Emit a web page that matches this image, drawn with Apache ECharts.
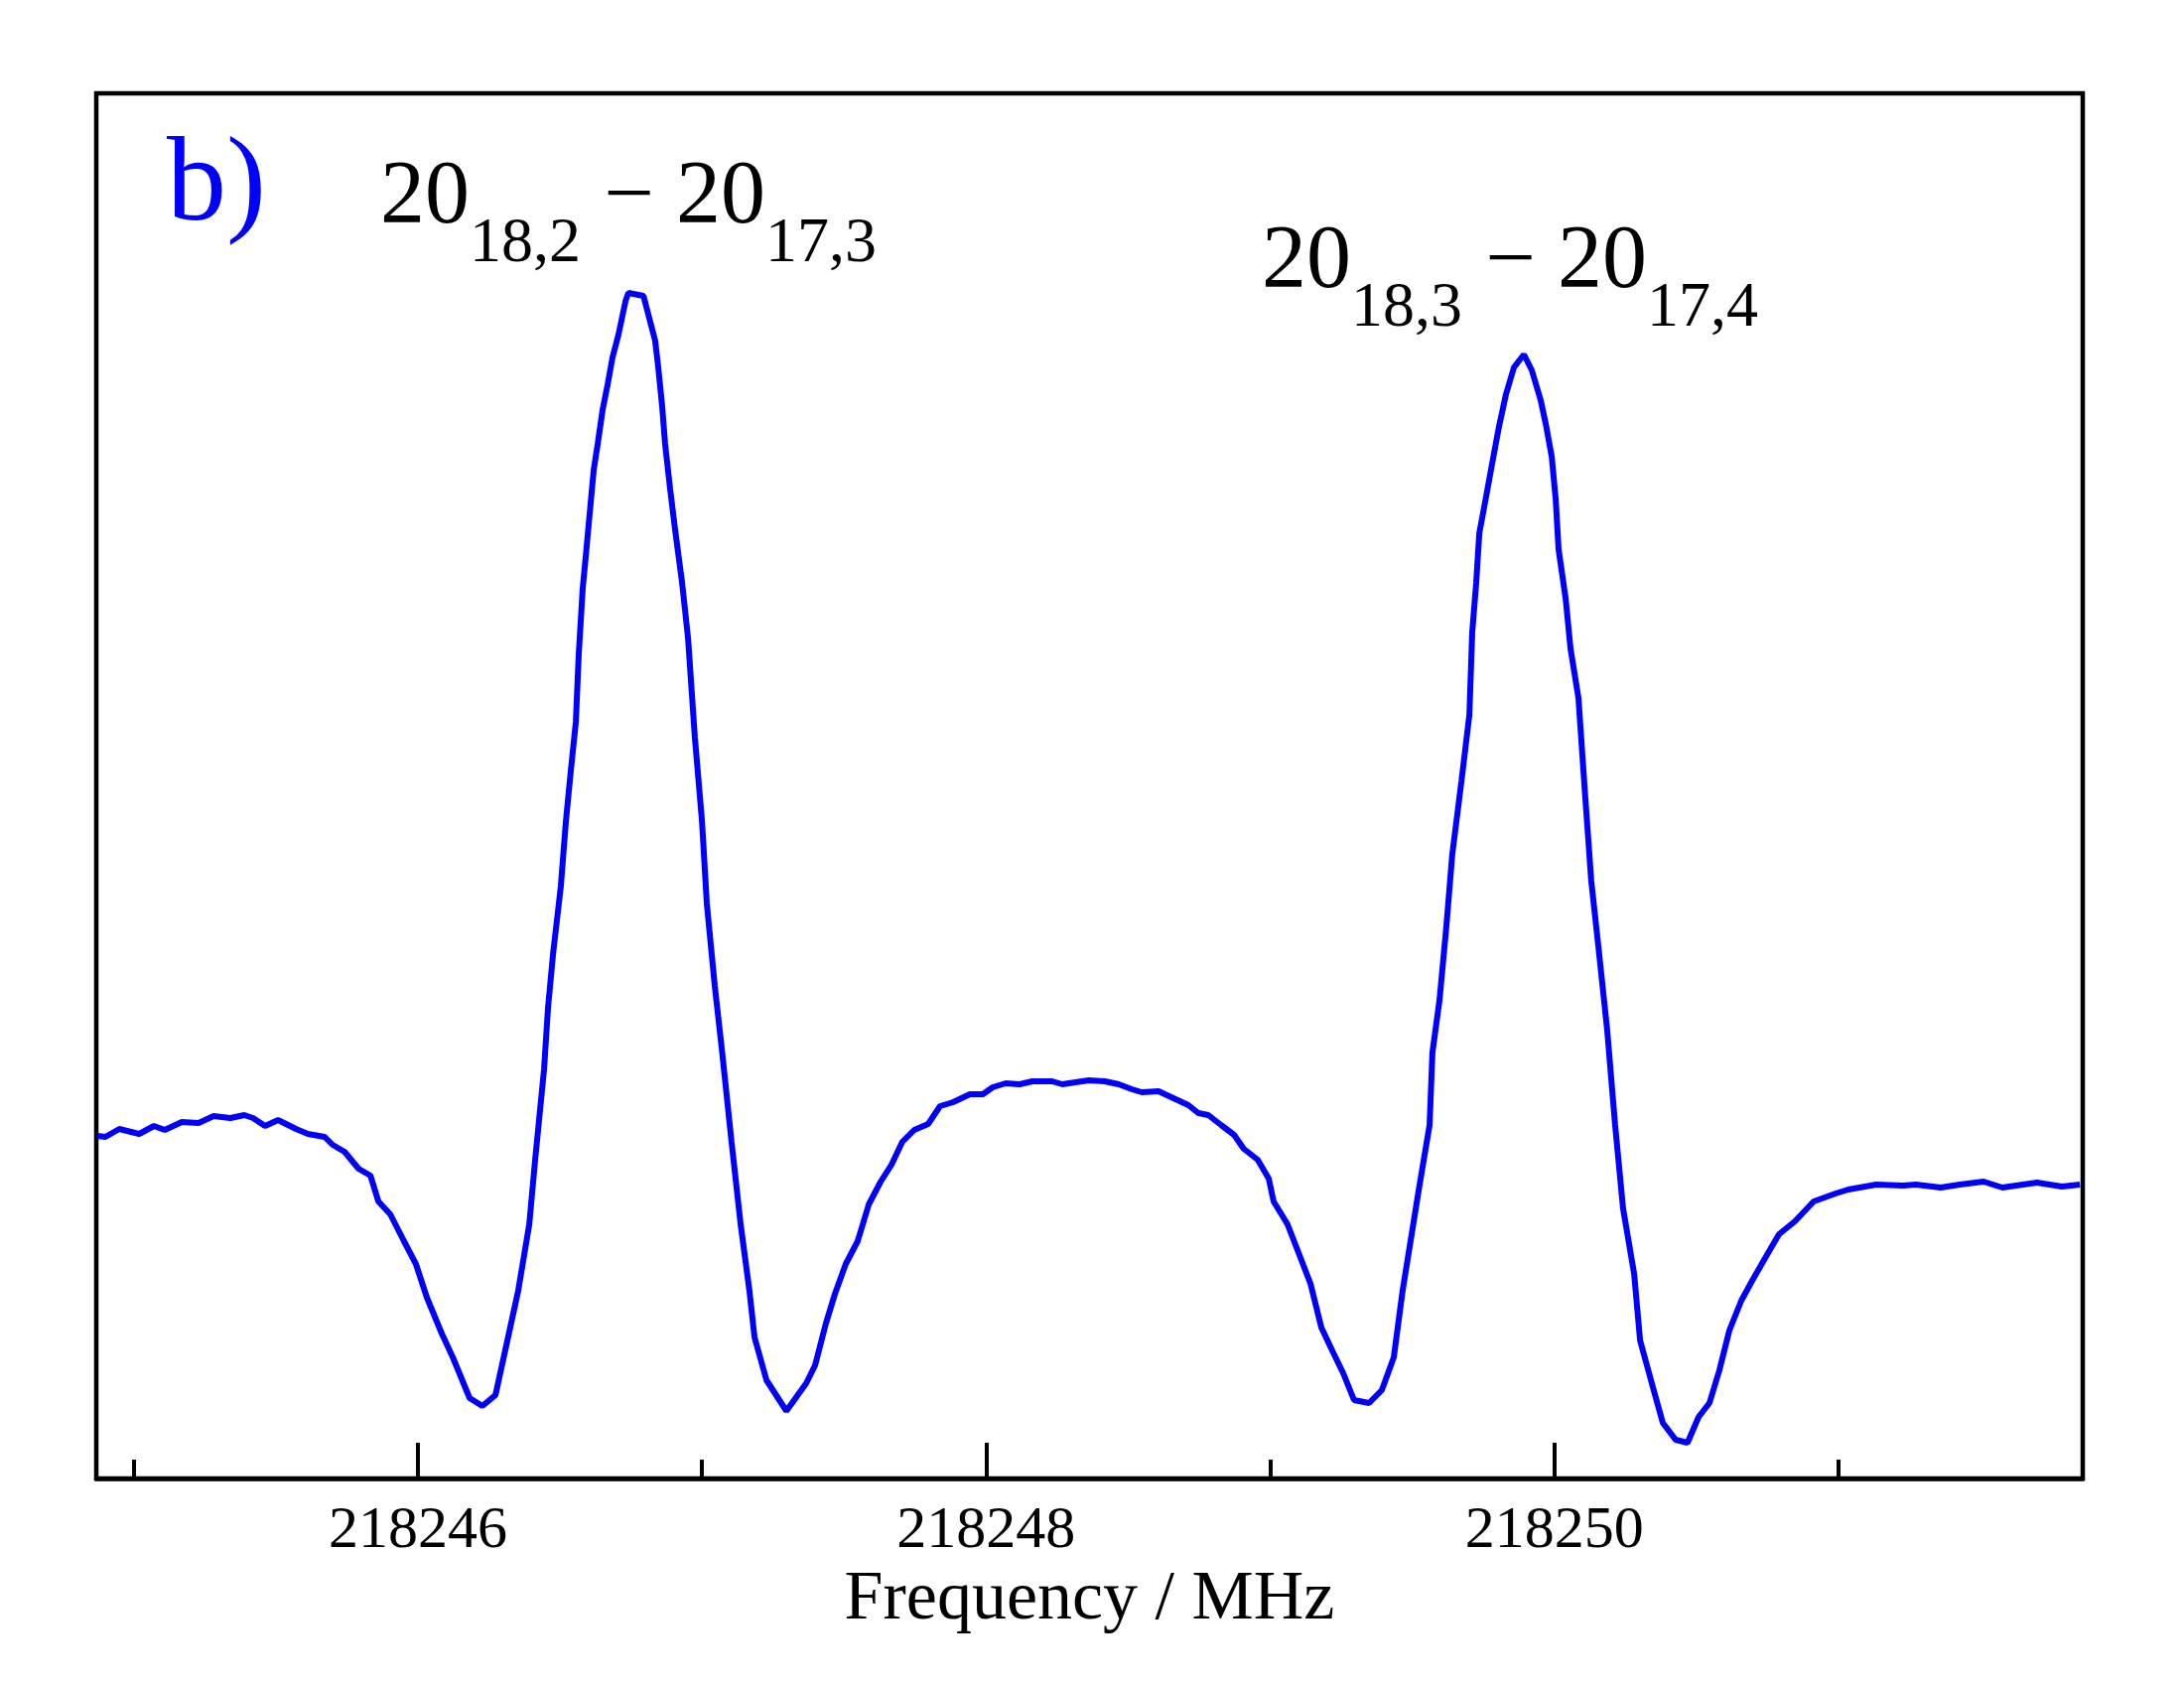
<!DOCTYPE html>
<html>
<head>
<meta charset="utf-8">
<script src="https://cdn.jsdelivr.net/npm/echarts@6/dist/echarts.min.js"></script>
<style>
  html, body { margin: 0; padding: 0; background: #fff; }
  #chart { width: 2200px; height: 1700px; }
</style>
</head>
<body>
<div id="chart"></div>
<script>
// Frequency (MHz) sample positions
const frequency = [
  218244.872, 218244.900, 218244.949, 218245.019, 218245.071, 218245.109, 218245.169, 218245.228,
  218245.281, 218245.340, 218245.389, 218245.420, 218245.462, 218245.508, 218245.571, 218245.613,
  218245.672, 218245.700, 218245.742, 218245.791, 218245.833, 218245.861, 218245.903, 218245.951,
  218245.993, 218246.032, 218246.084, 218246.123, 218246.182, 218246.227, 218246.273, 218246.315,
  218246.353, 218246.392, 218246.413, 218246.444, 218246.458, 218246.476, 218246.503, 218246.521,
  218246.538, 218246.556, 218246.566, 218246.580, 218246.591, 218246.608, 218246.619, 218246.633,
  218246.650, 218246.668, 218246.685, 218246.706, 218246.731, 218246.741, 218246.794, 218246.835,
  218246.846, 218246.860, 218246.870, 218246.888, 218246.905, 218246.930, 218246.951, 218246.975,
  218247.000, 218247.017, 218247.045, 218247.070, 218247.104, 218247.136, 218247.167, 218247.185,
  218247.227, 218247.297, 218247.367, 218247.398, 218247.436, 218247.468, 218247.506, 218247.548,
  218247.587, 218247.629, 218247.667, 218247.705, 218247.747, 218247.796, 218247.838, 218247.884,
  218247.943, 218247.989, 218248.023, 218248.069, 218248.118, 218248.163, 218248.233, 218248.268,
  218248.314, 218248.362, 218248.418, 218248.467, 218248.513, 218248.548, 218248.607, 218248.652,
  218248.712, 218248.747, 218248.782, 218248.827, 218248.873, 218248.907, 218248.956, 218248.995,
  218249.012, 218249.061, 218249.107, 218249.142, 218249.180, 218249.218, 218249.257, 218249.295,
  218249.348, 218249.393, 218249.435, 218249.466, 218249.494, 218249.522, 218249.561, 218249.571,
  218249.596, 218249.620, 218249.641, 218249.673, 218249.701, 218249.711, 218249.725, 218249.736,
  218249.760, 218249.781, 218249.805, 218249.830, 218249.858, 218249.893, 218249.921, 218249.952,
  218249.970, 218249.991, 218250.005, 218250.015, 218250.040, 218250.057, 218250.085, 218250.109,
  218250.130, 218250.155, 218250.186, 218250.214, 218250.242, 218250.281, 218250.302, 218250.347,
  218250.382, 218250.427, 218250.469, 218250.508, 218250.546, 218250.581, 218250.616, 218250.658,
  218250.696, 218250.742, 218250.791, 218250.847, 218250.913, 218250.990, 218251.035, 218251.133,
  218251.228, 218251.273, 218251.360, 218251.427, 218251.511, 218251.577, 218251.699, 218251.787,
  218251.850
];

// Intensity (arbitrary units) at each frequency
const intensity = [
  34.5, 34.4, 35.2, 34.7, 35.5, 35.1, 35.9, 35.8,
  36.5, 36.3, 36.6, 36.3, 35.5, 36.1, 35.2, 34.7,
  34.4, 33.6, 32.9, 31.2, 30.5, 27.9, 26.6, 23.9,
  21.6, 18.2, 14.6, 12.2, 8.1, 7.3, 8.4, 13.9,
  18.9, 25.6, 32.2, 41.2, 47.4, 52.9, 59.6, 66.2,
  71.2, 76.2, 82.9, 89.6, 92.9, 98.2, 101.6, 104.2,
  107.6, 110.2, 112.9, 115.2, 118.6, 119.4, 119.1, 114.6,
  111.9, 107.9, 104.2, 99.6, 95.6, 90.2, 84.6, 74.6,
  66.2, 57.9, 49.6, 43.2, 33.9, 25.6, 18.9, 14.2,
  9.9, 6.8, 9.6, 11.4, 15.6, 18.6, 21.6, 23.9,
  27.6, 29.9, 31.6, 33.9, 35.1, 35.7, 37.5, 37.9,
  38.7, 38.7, 39.4, 39.8, 39.7, 40.0, 40.0, 39.7,
  39.9, 40.1, 40.0, 39.7, 39.2, 38.9, 39.0, 38.4,
  37.6, 36.8, 36.6, 35.6, 34.6, 33.2, 32.1, 30.2,
  27.9, 25.6, 22.2, 19.6, 15.2, 12.9, 10.6, 7.9,
  7.6, 8.9, 12.2, 18.9, 23.9, 28.9, 35.6, 42.9,
  48.2, 55.6, 62.9, 70.2, 76.9, 85.2, 90.2, 95.2,
  98.9, 102.2, 105.9, 109.2, 111.9, 113.2, 111.6, 108.6,
  106.2, 102.9, 98.6, 93.6, 88.6, 83.6, 78.6, 68.6,
  60.2, 53.6, 45.2, 35.6, 27.2, 20.6, 13.9, 9.2,
  5.6, 3.9, 3.6, 6.2, 7.6, 10.9, 14.9, 17.9,
  19.9, 22.2, 24.6, 25.9, 27.9, 28.7, 29.1, 29.6,
  29.5, 29.6, 29.3, 29.6, 29.9, 29.3, 29.8, 29.4,
  29.6, 29.1
];

const xMin = 218244.868;
const xMax = 218251.860;
const yMin = 0;
const yMax = 139.5;

const axisTitle = 'Frequency / MHz';
const panelLabel = 'b)';
const transition1 = { upper: '20', upperSub: '18,2', lower: '20', lowerSub: '17,3' };
const transition2 = { upper: '20', upperSub: '18,3', lower: '20', lowerSub: '17,4' };

const seriesData = frequency.map((f, i) => [f, intensity[i]]);

const FONT = '"Liberation Serif", "Times New Roman", serif';
// vertical placement: text middle is ~0.33em above baseline
function txt(text, x, baseline, size, color, align) {
  return {
    type: 'text',
    z: 100,
    style: {
      text: text,
      x: x,
      y: baseline - size * 0.33,
      font: size + 'px ' + FONT,
      fill: color,
      align: align || 'left',
      verticalAlign: 'middle'
    }
  };
}

function transitionLabel(t, x0, baseline) {
  const main = 90, sub = 64, subDrop = 37;
  return [
    txt(t.upper, x0, baseline, main, '#000'),
    txt(t.upperSub, x0 + 90, baseline + subDrop, sub, '#000'),
    txt('\u2212', x0 + 251, baseline, main, '#000', 'center'),
    txt(t.lower, x0 + 298, baseline, main, '#000'),
    txt(t.lowerSub, x0 + 388, baseline + subDrop, sub, '#000')
  ];
}

const chart = echarts.init(document.getElementById('chart'), null, { renderer: 'canvas' });
chart.setOption({
  animation: false,
  backgroundColor: '#fff',
  grid: {
    left: 97, right: 102, top: 94, bottom: 211,
    show: true, borderColor: '#000', borderWidth: 4.5, backgroundColor: 'transparent'
  },
  xAxis: {
    type: 'value',
    min: xMin,
    max: xMax,
    splitNumber: 3,
    name: axisTitle,
    nameLocation: 'middle',
    nameGap: 88,
    nameTextStyle: { fontFamily: FONT, fontSize: 70, color: '#000' },
    axisLine: { show: true, lineStyle: { color: '#000', width: 4.5 } },
    axisTick: { show: true, inside: true, length: 36, lineStyle: { color: '#000', width: 4 } },
    minorTick: { show: true, splitNumber: 2, length: 19, lineStyle: { color: '#000', width: 4 } },
    axisLabel: {
      show: true,
      margin: 23,
      fontFamily: FONT,
      fontSize: 60,
      color: '#000',
      showMinLabel: false,
      showMaxLabel: false,
      formatter: function (v) {
        const r = Math.round(v);
        return (Math.abs(v - r) < 1e-6 && r % 2 === 0) ? String(r) : '';
      }
    },
    splitLine: { show: false },
    minorSplitLine: { show: false }
  },
  yAxis: {
    type: 'value',
    min: yMin,
    max: yMax,
    axisLine: { show: false },
    axisTick: { show: false },
    axisLabel: { show: false },
    splitLine: { show: false }
  },
  series: [{
    type: 'line',
    data: seriesData,
    showSymbol: false,
    symbol: 'none',
    smooth: false,
    lineStyle: { color: '#0000ff', width: 6 },
    clip: true
  }],
  graphic: [
    txt(panelLabel, 168, 229, 120, '#0000ff'),
    ...transitionLabel(transition1, 383, 230),
    ...transitionLabel(transition2, 1271, 295)
  ]
});
</script>
</body>
</html>
